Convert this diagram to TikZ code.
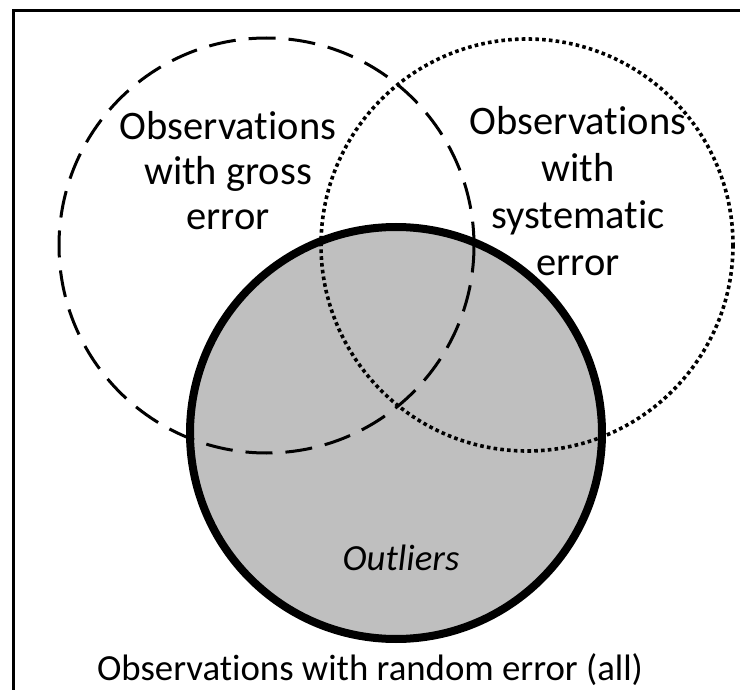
\documentclass[tikz,border=0pt]{standalone}
\usepackage{fontspec}
\setmainfont{Carlito}
\newcommand{\obsword}{Observat\kern0pt ions}
\begin{document}
\begin{tikzpicture}[x=1pt,y=-1pt,
  lbl/.style={font=\fontsize{40.5}{46}\selectfont, anchor=base, inner sep=0pt},
  small/.style={font=\fontsize{36.8}{44}\selectfont, anchor=base, inner sep=0pt},
  gross/.style={line width=3pt, dash pattern=on 27pt off 13pt},
  syst/.style={line width=3.6pt, dash pattern=on 3.6pt off 3.2pt},
  randc/.style={line width=8pt},
  frame/.style={line width=3pt}]
\useasboundingbox (0,0) rectangle (740,690);
\begin{scope}
\clip (0,0) rectangle (740,690);
\draw[frame] (13,11) rectangle (760,720);
\end{scope}
\coordinate (cg) at (266.5,245.5);
\coordinate (cs) at (527,245);
\coordinate (cr) at (396,433);
\fill[fill={rgb,255:red,191;green,191;blue,191}] (cr) circle (206);
\draw[gross] (cg) circle (207.5);
\draw[syst] (cs) circle (206);
\draw[randc] (cr) circle (206);
\node[lbl] (g1) at (228,140) {\obsword};
\node[lbl] (g2) at (228,185) {with gross};
\node[lbl] (g3) at (228,230) {error};
\node[lbl] (s1) at (578,135) {\obsword};
\node[lbl] (s2) at (578,182) {with};
\node[lbl] (s3) at (578,229) {systemat\kern0pt ic};
\node[lbl] (s4) at (578,276) {error};
\node[small] (o) at (401,570) {\itshape Outliers};
\node[small] (all) at (370,680) {\obsword{} with random error (all)};
\end{tikzpicture}
\end{document}
